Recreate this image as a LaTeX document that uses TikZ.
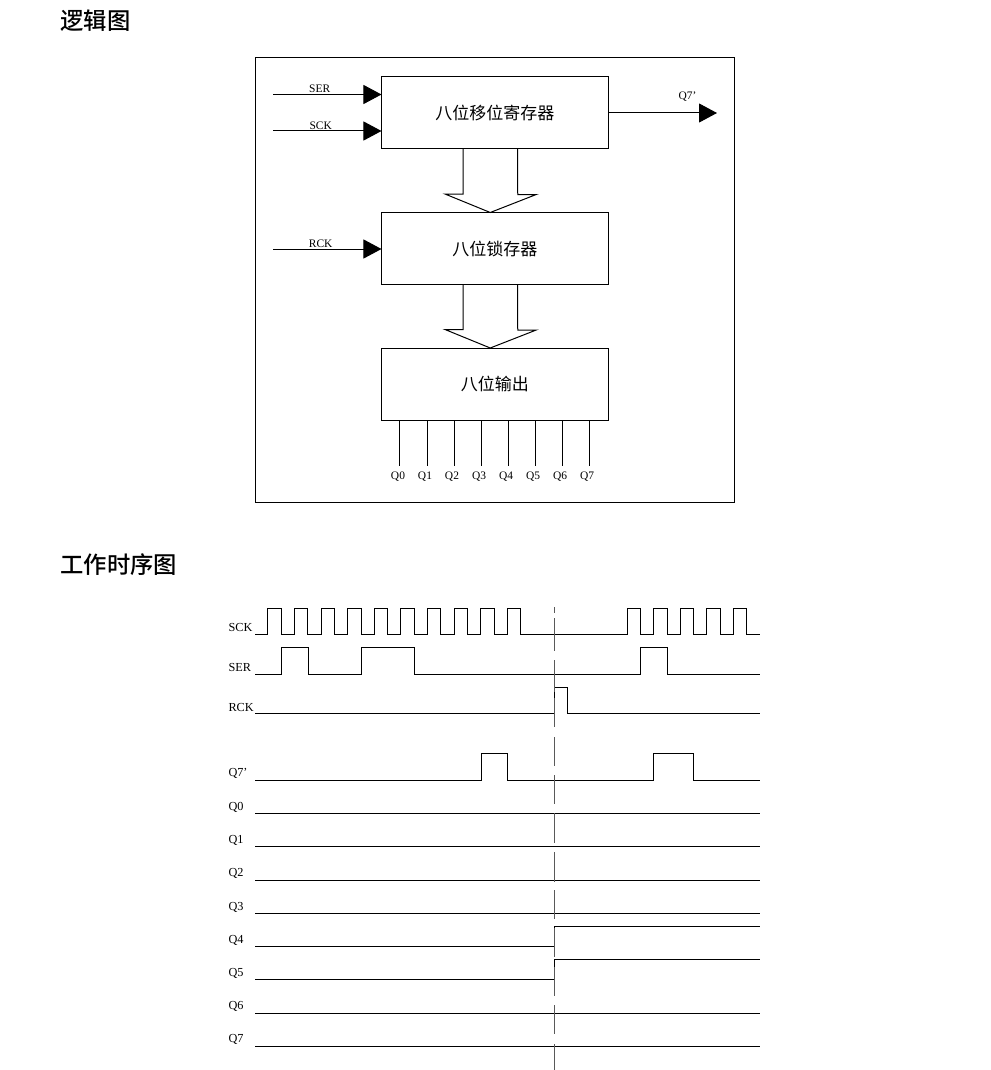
\documentclass[tikz,border=0pt]{standalone}
\usepackage{fontspec}
\setmainfont{Liberation Serif}
\newfontfamily\cjk{Noto Sans CJK SC}
\newfontfamily\cjkhead{Noto Sans CJK SC Medium}
\usetikzlibrary{arrows.meta}
\usetikzlibrary{calc}

\tikzset{
  block/.style={draw,minimum width=169.9pt,minimum height=54pt,inner sep=0pt,outer sep=0pt,font=\cjk\fontsize{12.75}{14}\selectfont},
  sig/.style={font=\fontsize{8.6}{10}\selectfont,inner sep=0pt},
  tlabel/.style={anchor=west,font=\fontsize{9.2}{10}\selectfont,inner sep=0pt},
  head/.style={anchor=west,inner sep=0pt,font=\cjkhead\fontsize{17.5}{20}\selectfont},
  input/.style={-{Triangle[length=13.5pt,width=14.25pt]},shorten >=0pt},
  wave/.style={line join=miter}
}

% one trace: low level, high level, list of rise/fall pairs
\newcommand{\trace}[3]{\draw[wave] (255,#1) \foreach \a/\b in {#3} { -- (\a,#1) -- (\a,#2) -- (\b,#2) -- (\b,#1)} -- (760,#1);}

\begin{document}
\begin{tikzpicture}[x=.75pt,y=-.75pt,line width=.75pt]
  \useasboundingbox (0,0) rectangle (991,1070);

  \node[head] (title1) at (60,21) {逻辑图};
  \node[head] (title2) at (60,565) {工作时序图};

  \node[draw,minimum width=359.25pt,minimum height=333pt,inner sep=0pt] (frame) at (494.5,280) {};
  \node[block] (shift) at (494.75,113) {八位移位寄存器};
  \node[block] (latch) at (494.75,248.5) {八位锁存器};
  \node[block] (outp) at (494.75,384) {八位输出};

  \foreach \from/\to in {shift/latch,latch/outp}
    \draw ($(\from.south)+(-31.75,0)$) -- ++(0,45) -- ++(-18,0) -- ($(\to.north)+(-4.5,0)$)
      -- ++(46,-18) -- ++(-18.5,0) -- ($(\from.south)+(22.75,0)$);

  \coordinate (in-ser) at (273,94.5);
  \coordinate (in-sck) at (273,131);
  \coordinate (in-rck) at (273,249);
  \coordinate (out-q) at (717,113);
  \path[input] (in-ser) edge node[sig,above=1pt,pos=.43] {SER} (in-ser -| shift.west);
  \path[input] (in-sck) edge node[sig,above=1pt,pos=.44] {SCK} (in-sck -| shift.west);
  \path[input] (in-rck) edge node[sig,above=1pt,pos=.44] {RCK} (in-rck -| latch.west);
  \path[input] (out-q -| shift.east) edge node[sig,above=8pt,pos=.73] {Q7'} (out-q);

  % outputs
  \foreach \n/\x/\lx in {0/399.5/398,1/427/425,2/454/452,3/481/479,4/508.5/506,5/535/533,6/562/560,7/589.5/587} {
    \node[sig] (q\n) at (\lx,477) {Q\n};
    \draw (\x,420) -- (\x,466);
  }

  % timing
  \foreach \n/\y/\t in {sck/627/SCK,ser/667/SER,rck/707/RCK,q7s/773/Q7',t0/807/Q0,t1/840/Q1,t2/873/Q2,t3/907/Q3,t4/940/Q4,t5/973/Q5,t6/1006/Q6,t7/1039/Q7}
    \node[tlabel] (lab-\n) at (228,\y) {\t};

  \draw[wave] (255,634) \foreach \k in {0,...,9} { -- ({267.9+26.6*\k},634) -- ++(0,-26) -- ++(13.3,0) -- ++(0,26)}
    \foreach \k in {0,...,4} { -- ({627+26.6*\k},634) -- ++(0,-26) -- ++(13.5,0) -- ++(0,26)} -- (760,634);
  \trace{674}{647}{281.7/308.3,361.3/414.3,640.7/667}
  \trace{713.5}{687}{554/567.5}
  \trace{780}{753.5}{481/507.5,653.5/693.7}
  \draw[wave] (255,946.3) -- (554,946.3) -- (554,926.3) -- (760,926.3);
  \draw[wave] (255,979.7) -- (554,979.7) -- (554,959.7) -- (760,959.7);
  \foreach \y in {813.3,846.7,880,913.3,1013,1046.3}
    \draw (255,\y) -- (760,\y);

  \foreach \a/\b in {607/613,618/651,660/692,698/727,737/766,775/804,813/843,852/882,890/919,928/957,967/996,1005/1034,1044/1070}
    \draw[black!65] (554,\a) -- (554,\b);
\end{tikzpicture}
\end{document}
